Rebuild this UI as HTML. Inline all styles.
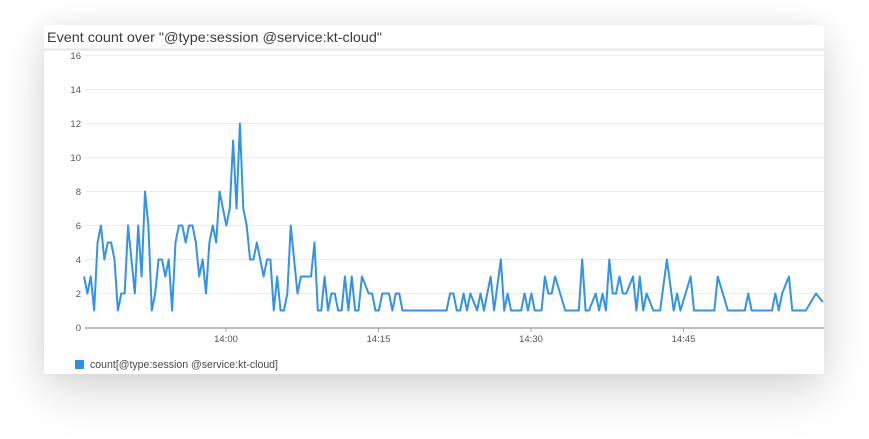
<!DOCTYPE html>
<html>
<head>
<meta charset="utf-8">
<style>
  html,body{margin:0;padding:0;background:#fff;}
  body{width:869px;height:439px;position:relative;overflow:hidden;}
  .card{position:absolute;left:44px;top:25px;width:780px;height:349px;background:#fff;
    box-shadow:0 18px 45px rgba(0,0,0,0.15),0 0 26px rgba(0,0,0,0.06);}
  svg{position:absolute;left:0;top:0;}
</style>
</head>
<body>
<div class="card"></div>
<svg width="869" height="439" viewBox="0 0 869 439" xmlns="http://www.w3.org/2000/svg">
  <text x="47" y="42" font-family="Liberation Sans, sans-serif" font-size="14" fill="#3a3a3a" textLength="335" lengthAdjust="spacingAndGlyphs">Event count over "@type:session @service:kt-cloud"</text>
  <line x1="44" y1="49.5" x2="824" y2="49.5" stroke="#e5e6ee" stroke-width="2"/>
  <g stroke="#ededed" stroke-width="1">
    <line x1="85" y1="55.5" x2="824" y2="55.5"/>
    <line x1="85" y1="89.5" x2="824" y2="89.5"/>
    <line x1="85" y1="123.5" x2="824" y2="123.5"/>
    <line x1="85" y1="157.5" x2="824" y2="157.5"/>
    <line x1="85" y1="191.5" x2="824" y2="191.5"/>
    <line x1="85" y1="225.5" x2="824" y2="225.5"/>
    <line x1="85" y1="259.5" x2="824" y2="259.5"/>
    <line x1="85" y1="293.5" x2="824" y2="293.5"/>
  </g>
  <g font-family="Liberation Sans, sans-serif" font-size="9.5" fill="#555" text-anchor="end">
    <text x="81" y="59">16</text>
    <text x="81" y="93">14</text>
    <text x="81" y="127">12</text>
    <text x="81" y="161">10</text>
    <text x="81" y="195">8</text>
    <text x="81" y="229">6</text>
    <text x="81" y="263">4</text>
    <text x="81" y="297">2</text>
    <text x="81" y="331">0</text>
  </g>
  <line x1="85" y1="328" x2="824" y2="328" stroke="#a3a7b0" stroke-width="1.5"/>
  <g stroke="#a3a7b0" stroke-width="1">
    <line x1="226" y1="328" x2="226" y2="332"/>
    <line x1="378.5" y1="328" x2="378.5" y2="332"/>
    <line x1="531" y1="328" x2="531" y2="332"/>
    <line x1="683.5" y1="328" x2="683.5" y2="332"/>
  </g>
  <g font-family="Liberation Sans, sans-serif" font-size="9.5" fill="#555" text-anchor="middle">
    <text x="226" y="342">14:00</text>
    <text x="378.5" y="342">14:15</text>
    <text x="531" y="342">14:30</text>
    <text x="683.5" y="342">14:45</text>
  </g>
  <polyline transform="matrix(3.389 0 0 -17 84 327.5)" vector-effect="non-scaling-stroke" fill="none" stroke="#3393ea" stroke-width="2" stroke-linejoin="round"
    points="0,3 1,2 2,3 3,1 4,5 5,6 6,4 7,5 8,5 9,4 10,1 11,2 12,2 13,6 14,4 15,2 16,6 17,3 18,8 19,6 20,1 21,2 22,4 23,4 24,3 25,4 26,1 27,5 28,6 29,6 30,5 31,6 32,6 33,5 34,3 35,4 36,2 37,5 38,6 39,5 40,8 41,7 42,6 43,7 44,11 45,7 46,12 47,7 48,6 49,4 50,4 51,5 52,4 53,3 54,4 55,4 56,1 57,3 58,1 59,1 60,2 61,6 62,4 63,2 64,3 65,3 66,3 67,3 68,5 69,1 70,1 71,3 72,1 73,2 74,2 75,1 76,1 77,3 78,1 79,3 80,1 81,1 82,3 83,2.5 84,2 85,2 86,1 87,1 88,2 89,2 90,2 91,1 92,2 93,2 94,1 107,1 108,2 109,2 110,1 111,1 112,2 113,1 114,2 115,1.5 116,1 117,2 118,1 119,2 120,3 121,1 122,2.5 123,4 124,1 125,2 126,1 129,1 130,2 131,1 132,2 133,1 135,1 136,3 137,2 138,2 139,3 140,2.33 141,1.67 142,1 146,1 147,4 148,1 149,1 150,1.5 151,2 152,1 153,2 154,1 155,4 156,2 157,2 158,3 159,2 160,2 161,2.5 162,3 163,1 164,3 165,1 166,2 167,1.5 168,1 170,1 171,2.5 172,4 173,2.5 174,1 175,2 176,1 177,1.67 178,2.33 179,3 180,1 186,1 187,3 188,2.33 189,1.67 190,1 195,1 196,2 197,1 203,1 204,2 205,1 206,2 207,2.5 208,3 209,1 213,1 214,1.33 215,1.67 216,2 217,1.75 218,1.5"/>
  <rect x="75" y="360" width="9" height="9" fill="#2f8fe8"/>
  <text x="90" y="368" font-family="Liberation Sans, sans-serif" font-size="11" fill="#4a4a4a" textLength="188" lengthAdjust="spacingAndGlyphs">count[@type:session @service:kt-cloud]</text>
</svg>
</body>
</html>
